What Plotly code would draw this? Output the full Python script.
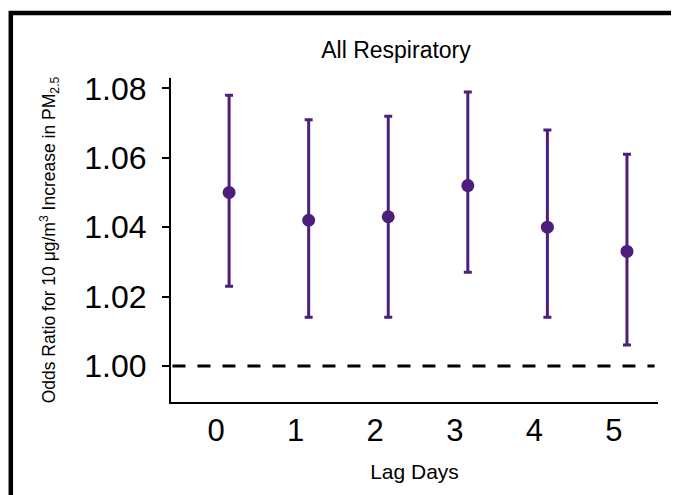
import plotly.graph_objects as go

lag_days = [0, 1, 2, 3, 4, 5]
odds_ratio = [1.050, 1.042, 1.043, 1.052, 1.040, 1.033]
ci_upper = [1.078, 1.071, 1.072, 1.079, 1.068, 1.061]
ci_lower = [1.023, 1.014, 1.014, 1.027, 1.014, 1.006]
reference_value = 1.00
y_ticks = [1.00, 1.02, 1.04, 1.06, 1.08]
y_tick_labels = ["1.00", "1.02", "1.04", "1.06", "1.08"]

color = "#4b1f7b"
font = "Liberation Sans, Arial, sans-serif"

err_plus = [u - v for u, v in zip(ci_upper, odds_ratio)]
err_minus = [v - l for v, l in zip(odds_ratio, ci_lower)]

fig = go.Figure()
fig.add_trace(go.Scatter(
    x=lag_days, y=odds_ratio, mode="markers",
    marker=dict(color=color, size=13),
    error_y=dict(type="data", symmetric=False, array=err_plus, arrayminus=err_minus,
                 color=color, thickness=3, width=4),
    showlegend=False,
))

fig.add_shape(type="line", xref="paper", yref="y", x0=0.003, x1=0.993,
              y0=reference_value, y1=reference_value,
              line=dict(color="black", width=3, dash="13px,12px"))

# page has an 8px body margin; work in figure pixel coordinates
OFF = 8
W, H = 679 - OFF, 495 - OFF
L, T = 171 - OFF, 78 - OFF
R = W - (658 - OFF)
B = H - (402 - OFF)
pw, ph = W - L - R, H - T - B
def px_x(p): return (p - OFF - L) / pw
def px_y(p): return (H - B - (p - OFF)) / ph
fig.add_shape(type="rect", xref="paper", yref="paper",
              x0=px_x(10.8), x1=px_x(700), y0=px_y(13), y1=px_y(520),
              line=dict(color="black", width=4.5), fillcolor="rgba(0,0,0,0)", layer="above")

fig.update_layout(
    width=W, height=H,
    margin=dict(l=L, r=R, t=T, b=B),
    paper_bgcolor="white", plot_bgcolor="white",
    font=dict(family=font, color="black"),
    title=dict(text="All Respiratory", x=(396 - OFF) / W, y=1 - (50 - OFF) / H,
               xref="container", yref="container",
               xanchor="center", yanchor="middle", font=dict(size=23, color="black")),
    xaxis=dict(range=[-0.73, 5.39], tickmode="array", tickvals=lag_days,
               ticktext=[str(d) for d in lag_days], showgrid=False, zeroline=False,
               showline=True, linecolor="black", linewidth=2, ticks="",
               tickfont=dict(size=31), ticklabelstandoff=0, ticklabelshift=-13,
               title=dict(text="Lag Days", font=dict(size=21), standoff=17)),
    yaxis=dict(range=[0.9896, 1.083], tickmode="array", tickvals=y_ticks, ticktext=y_tick_labels,
               showgrid=False, zeroline=False, showline=True, linecolor="black", linewidth=2,
               ticks="outside", ticklen=7, tickwidth=2, tickcolor="black",
               tickfont=dict(size=32), ticklabelstandoff=9,
               title=dict(text="Odds Ratio for 10 μg/m<sup>3</sup> Increase in PM<sub>2.5</sub>",
                          font=dict(size=17.5), standoff=24)),
)

fig.write_html("out.html")
